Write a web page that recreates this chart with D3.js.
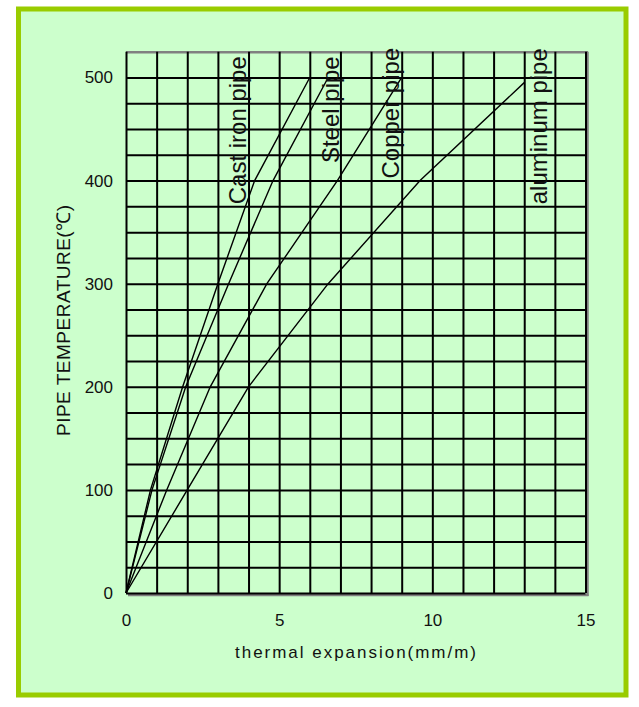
<!DOCTYPE html>
<html>
<head>
<meta charset="utf-8">
<script src="https://cdn.jsdelivr.net/npm/d3@7"></script>
<style>
  body { margin: 0; background: #fff; }
  text { font-family: "Liberation Sans", Arial, sans-serif; fill: #111; }
</style>
</head>
<body>
<div id="chart"></div>
<script>
// values (temperature in C, expansion in mm/m)
const temps = [0, 100, 200, 300, 400, 500]
const castIron = [0, 0.8, 1.85, 3.0, 4.2, 6.0]
const steel = [0, 0.85, 1.95, 3.35, 4.8, 6.6]
const copper = [0, 1.33, 2.75, 4.6, 6.9, 9.0]
const aluminumTemps = [0, 100, 200, 300, 400, 495]
const aluminum = [0, 2.0, 4.0, 6.6, 9.6, 13.0]
const seriesNames = ["Cast iron pipe", "Steel pipe", "Copper pipe", "aluminum pipe"]
const xTicks = [0, 5, 10, 15]
const yTicks = [0, 100, 200, 300, 400, 500]

// where each curve label sits (x, temp) - bottom end of the rotated text
const labelSpots = [[3.93, 377], [6.95, 417], [8.92, 402], [13.73, 377]]

const svgWidth = 639
const svgHeight = 707

let margin = { top: 51.7, left: 126 }
let width = 459.5
let height = 541.3

let svg = d3.select("#chart")
  .append("svg")
  .attr("width", svgWidth)
  .attr("height", svgHeight)

// outer green frame
svg.append("rect")
  .attr("x", 18.5)
  .attr("y", 9)
  .attr("width", 607.5)
  .attr("height", 686)
  .attr("fill", "#CCFFCC")
  .attr("stroke", "#99CC00")
  .attr("stroke-width", 5)

let chartGroup = svg.append("g")
  .attr("transform", `translate(${margin.left}, ${margin.top})`)

let xScale = d3.scaleLinear().domain([0, 15]).range([0, width])
let yScale = d3.scaleLinear().domain([0, 525]).range([height, 0])

// shadow edges of the plot box
chartGroup.append("line")
  .attr("x1", 0).attr("x2", width + 2.5)
  .attr("y1", 0.5).attr("y2", 0.5)
  .attr("stroke", "#808080").attr("stroke-width", 2.5)
chartGroup.append("line")
  .attr("x1", width + 2).attr("x2", width + 2)
  .attr("y1", 0).attr("y2", height + 3)
  .attr("stroke", "#808080").attr("stroke-width", 2.5)
chartGroup.append("line")
  .attr("x1", 2).attr("x2", width + 3)
  .attr("y1", height + 2).attr("y2", height + 2)
  .attr("stroke", "#808080").attr("stroke-width", 2.5)

// grid
let xGrid = chartGroup.append("g")
  .attr("transform", `translate(0, ${height})`)
  .call(d3.axisBottom(xScale).tickValues(d3.range(0, 16)).tickSize(-height).tickFormat(""))
let yGrid = chartGroup.append("g")
  .call(d3.axisLeft(yScale).tickValues(d3.range(0, 501, 25)).tickSize(-width).tickFormat(""))

chartGroup.selectAll(".domain").remove()
chartGroup.selectAll(".tick line")
  .attr("stroke", "#000")
  .attr("stroke-width", 2)

// tick labels
let bottomAxis = chartGroup.append("g")
  .attr("transform", `translate(0, ${height})`)
  .call(d3.axisBottom(xScale).tickValues(xTicks).tickSize(0).tickPadding(21))
let leftAxis = chartGroup.append("g")
  .call(d3.axisLeft(yScale).tickValues(yTicks).tickSize(0).tickPadding(13))

bottomAxis.select(".domain").remove()
leftAxis.select(".domain").remove()
chartGroup.selectAll(".tick text")
  .attr("font-size", "17px")
  .attr("font-family", "\"Liberation Sans\", Arial, sans-serif")
  .attr("fill", "#111")

// curves
let curveData = [
  castIron.map((v, i) => [v, temps[i]]),
  steel.map((v, i) => [v, temps[i]]),
  copper.map((v, i) => [v, temps[i]]),
  aluminum.map((v, i) => [v, aluminumTemps[i]])
]

let line = d3.line()
  .x(d => xScale(d[0]))
  .y(d => yScale(d[1]))

chartGroup.selectAll(".curve")
  .data(curveData)
  .enter()
  .append("path")
  .classed("curve", true)
  .attr("d", line)
  .attr("fill", "none")
  .attr("stroke", "#000")
  .attr("stroke-width", 1.4)

// curve labels, written upward
chartGroup.selectAll(".curve-label")
  .data(seriesNames)
  .enter()
  .append("text")
  .classed("curve-label", true)
  .attr("transform", (d, i) => `translate(${xScale(labelSpots[i][0])}, ${yScale(labelSpots[i][1])}) rotate(-90)`)
  .attr("font-size", "24px")
  .text(d => d)

// axis titles
svg.append("text")
  .attr("x", 355.5)
  .attr("y", 658)
  .attr("text-anchor", "middle")
  .attr("font-size", "17px")
  .attr("textLength", 241)
  .attr("lengthAdjust", "spacing")
  .text("thermal expansion(mm/m)")

svg.append("text")
  .attr("transform", "translate(69.5, 320.5) rotate(-90)")
  .attr("text-anchor", "middle")
  .attr("font-size", "19px")
  .attr("textLength", 231)
  .attr("lengthAdjust", "spacing")
  .text("PIPE TEMPERATURE(℃)")
</script>
</body>
</html>
